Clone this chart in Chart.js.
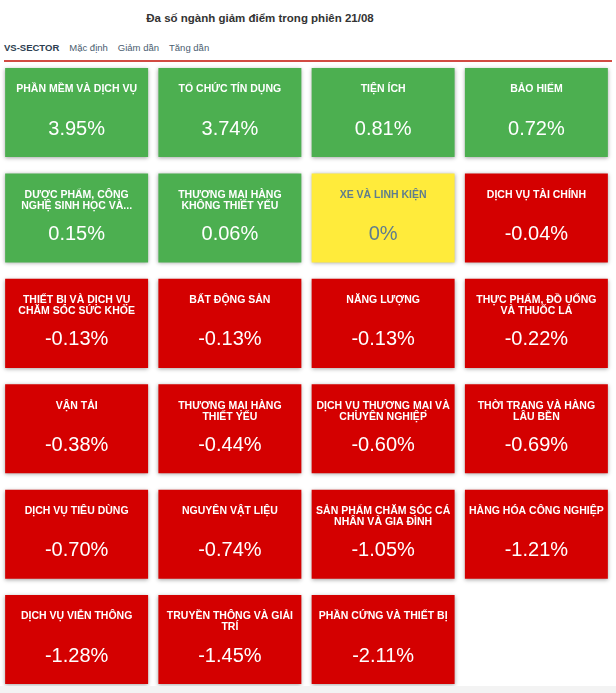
<!DOCTYPE html>
<html>
<head>
<meta charset="utf-8">
<title>VS-SECTOR</title>
<script src="https://cdn.jsdelivr.net/npm/chart.js@4.4.1/dist/chart.umd.min.js"></script>
<style>
  html, body { margin: 0; padding: 0; background: #f3f3f3; }
  .wrap { position: relative; width: 616px; height: 686px; background: #fff; font-family: "Liberation Sans", Arial, sans-serif; }
  .title { position: absolute; left: 0; width: 520px; top: 12px; text-align: center; font-weight: bold; font-size: 11.5px; color: #333; }
  .tabs { position: absolute; left: 4px; top: 42px; font-size: 9.5px; color: #4a5d70; white-space: nowrap; }
  .tabs span { margin-right: 10px; }
  .tabs .on { font-weight: bold; color: #2c3e50; }
  .rule { position: absolute; left: 4px; right: 4px; top: 60px; height: 2px; background: #d24b43; }
  #sectors { position: absolute; left: 0; top: 0; }
</style>
</head>
<body>
<div class="wrap">
  <div class="title">Đa số ngành giảm điểm trong phiên 21/08</div>
  <div class="tabs"><span class="on">VS-SECTOR</span><span>Mặc định</span><span>Giảm dần</span><span>Tăng dần</span></div>
  <div class="rule"></div>
  <canvas id="sectors" width="616" height="693"></canvas>
</div>

<script>
  // sector names and % change for the session, in display order (4 per row)
  const sectorNames = [
    "PHẦN MỀM VÀ DỊCH VỤ", "TỔ CHỨC TÍN DỤNG", "TIỆN ÍCH", "BẢO HIỂM",
    "DƯỢC PHẨM, CÔNG NGHỆ SINH HỌC VÀ...", "THƯƠNG MẠI HÀNG KHÔNG THIẾT YẾU", "XE VÀ LINH KIỆN", "DỊCH VỤ TÀI CHÍNH",
    "THIẾT BỊ VÀ DỊCH VỤ CHĂM SÓC SỨC KHỎE", "BẤT ĐỘNG SẢN", "NĂNG LƯỢNG", "THỰC PHẨM, ĐỒ UỐNG VÀ THUỐC LÁ",
    "VẬN TẢI", "THƯƠNG MẠI HÀNG THIẾT YẾU", "DỊCH VỤ THƯƠNG MẠI VÀ CHUYÊN NGHIỆP", "THỜI TRANG VÀ HÀNG LÂU BỀN",
    "DỊCH VỤ TIÊU DÙNG", "NGUYÊN VẬT LIỆU", "SẢN PHẨM CHĂM SÓC CÁ NHÂN VÀ GIA ĐÌNH", "HÀNG HÓA CÔNG NGHIỆP",
    "DỊCH VỤ VIỄN THÔNG", "TRUYỀN THÔNG VÀ GIẢI TRÍ", "PHẦN CỨNG VÀ THIẾT BỊ"
  ];
  const changes = [
    3.95, 3.74, 0.81, 0.72,
    0.15, 0.06, 0, -0.04,
    -0.13, -0.13, -0.13, -0.22,
    -0.38, -0.44, -0.60, -0.69,
    -0.70, -0.74, -1.05, -1.21,
    -1.28, -1.45, -2.11
  ];
  const columns = ["c1", "c2", "c3", "c4"];

  const GREEN = "#4caf50", RED = "#d40000", YELLOW = "#ffeb3b";
  function tileColor(v) { return v > 0 ? GREEN : (v < 0 ? RED : YELLOW); }
  function textColor(v) { return v === 0 ? "#5f7d8e" : "#ffffff"; }
  function fmt(v) { return v === 0 ? "0%" : v.toFixed(2) + "%"; }

  // each row is one floating-bar dataset, tile covers [row+TOP, row+TOP+H]
  const TILE_TOP = 0.038, TILE_H = 0.845;
  const rowCount = Math.ceil(changes.length / columns.length);
  const datasets = [];
  for (let r = 0; r < rowCount; r++) {
    const data = [], colors = [];
    columns.forEach(function (c, k) {
      const i = r * columns.length + k;
      if (i < changes.length) {
        data.push([r + TILE_TOP, r + TILE_TOP + TILE_H]);
        colors.push(tileColor(changes[i]));
      } else {
        data.push(null);
        colors.push("transparent");
      }
    });
    datasets.push({
      label: "row " + (r + 1),
      data: data,
      backgroundColor: colors,
      borderWidth: 0,
      grouped: false,
      categoryPercentage: 1,
      barPercentage: 0.933
    });
  }

  // soft shadow under the tiles
  const tileShadow = {
    id: "tileShadow",
    beforeDatasetsDraw(chart) {
      const c = chart.ctx;
      c.save();
      c.shadowColor = "rgba(0,0,0,0.35)";
      c.shadowBlur = 4;
      c.shadowOffsetY = 1;
    },
    afterDatasetsDraw(chart) { chart.ctx.restore(); }
  };

  function wrapLines(ctx, text, maxW, maxLines) {
    const words = text.split(" ");
    const lines = [];
    let cur = "";
    words.forEach(function (w) {
      const test = cur ? cur + " " + w : w;
      if (cur && ctx.measureText(test).width > maxW) { lines.push(cur); cur = w; }
      else cur = test;
    });
    if (cur) lines.push(cur);
    return lines.slice(0, maxLines);
  }

  // sector name + value written inside every tile
  const tileText = {
    id: "tileText",
    afterDatasetsDraw(chart) {
      const ctx = chart.ctx;
      ctx.save();
      ctx.textAlign = "center";
      ctx.textBaseline = "middle";
      chart.data.datasets.forEach(function (ds, r) {
        chart.getDatasetMeta(r).data.forEach(function (bar, k) {
          const i = r * columns.length + k;
          if (i >= changes.length) return;
          const p = bar.getProps(["x", "y", "base", "width"], true);
          const top = Math.min(p.y, p.base);
          ctx.fillStyle = textColor(changes[i]);
          ctx.font = "bold 10.5px 'Liberation Sans', Arial, sans-serif";
          const lines = wrapLines(ctx, sectorNames[i], p.width - 7.5, 2);
          lines.forEach(function (ln, j) { ctx.fillText(ln, p.x, top + 21.5 + j * 11); });
          ctx.font = "20px 'Liberation Sans', Arial, sans-serif";
          ctx.fillText(fmt(changes[i]), p.x, top + 61);
        });
      });
      ctx.restore();
    }
  };

  new Chart(document.getElementById("sectors"), {
    type: "bar",
    data: { labels: columns, datasets: datasets },
    options: {
      responsive: false,
      animation: false,
      layout: { padding: { top: 64, bottom: 7.1, left: 0, right: 3 } },
      plugins: {
        legend: { display: false },
        tooltip: { enabled: false },
        title: { display: false }
      },
      scales: {
        x: { display: false, offset: true },
        y: { display: false, reverse: true, min: 0, max: 5.9 }
      }
    },
    plugins: [tileShadow, tileText]
  });
</script>
</body>
</html>
